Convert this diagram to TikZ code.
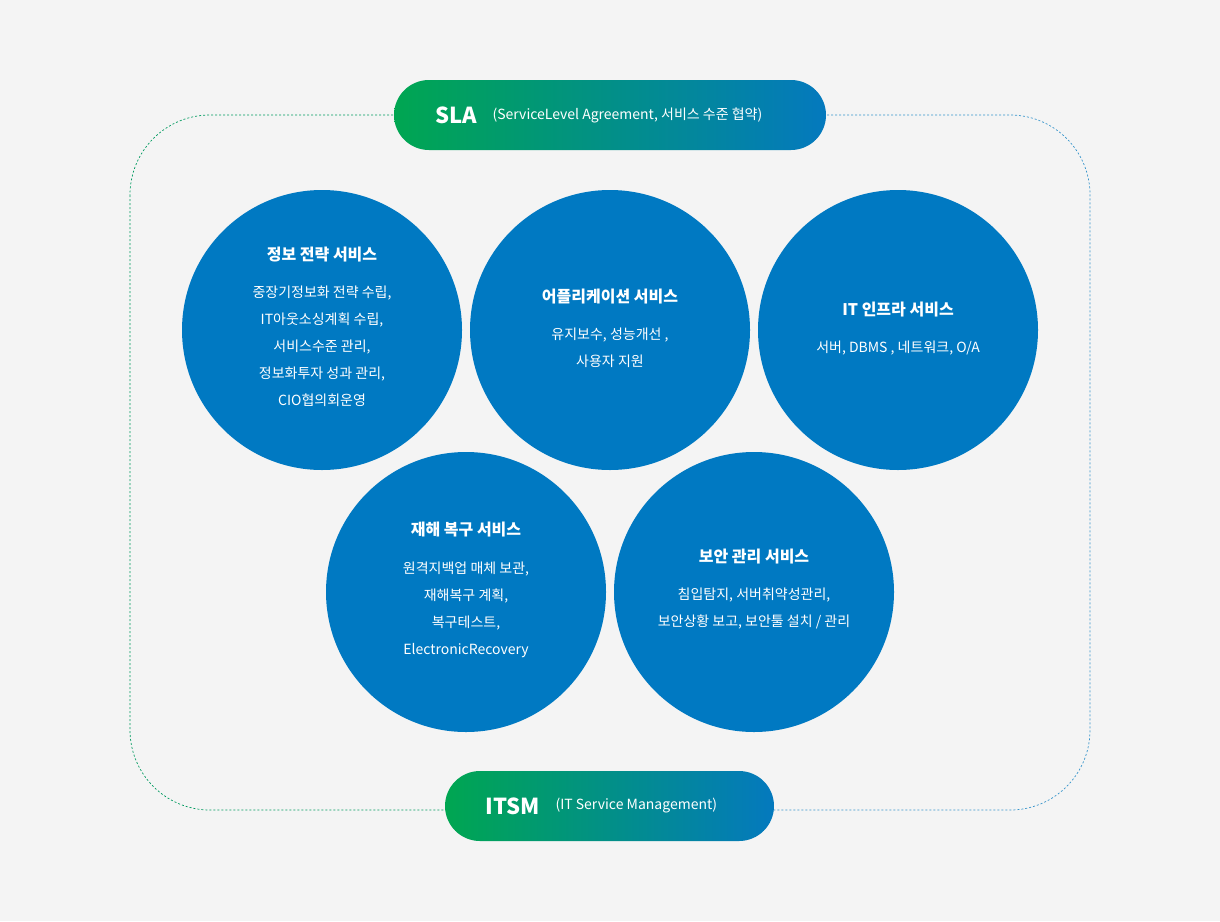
\documentclass[tikz,border=0pt]{standalone}
\usepackage{fontspec}
\setmainfont{Noto Sans CJK KR}
\usetikzlibrary{shapes.geometric}
\definecolor{bg}{HTML}{F4F4F4}
\definecolor{cblue}{HTML}{0079C2}
\definecolor{gg}{HTML}{00A651}
\definecolor{gb}{HTML}{0479BE}
\tikzset{
 circ/.style={circle,fill=cblue,minimum size=280pt,inner sep=0pt},
 ttl/.style={text=white,font=\fontsize{16}{18}\selectfont\bfseries,anchor=center},
 body/.style={text=white,font=\fontsize{14}{27}\selectfont,align=center,anchor=north},
 pill/.style={rounded corners=35pt,left color=gg,right color=gb,draw=none},
 dline/.style={dashed,dash pattern=on 2pt off 2pt,line width=0.7pt}
}
\begin{document}
\begin{tikzpicture}[x=1pt,y=-1pt]
\fill[bg] (0,0) rectangle (1220,921);
\useasboundingbox (0,0) rectangle (1220,921);
\begin{scope}
\clip (0,0) rectangle (610,921);
\draw[dline,draw=gg!70!teal] (130,115) [rounded corners=80pt] -- (130,810) -- (1090,810) -- (1090,115) -- cycle;
\end{scope}
\begin{scope}
\clip (610,0) rectangle (1220,921);
\draw[dline,draw=gb!80] (130,115) [rounded corners=80pt] -- (130,810) -- (1090,810) -- (1090,115) -- cycle;
\end{scope}
\node[pill,minimum width=432pt,minimum height=70pt] (sla) at (610,115) {};
\node[anchor=west,text=white,font=\fontsize{22}{24}\selectfont\bfseries] (slat) at (432,115) {SLA};
\node[anchor=west,text=white,font=\fontsize{14}{16}\selectfont] (slas) at (489,115) {(ServiceLevel Agreement, 서비스 수준 협약)};
\node[pill,minimum width=329pt,minimum height=70pt] (itsm) at (609.5,806) {};
\node[anchor=west,text=white,font=\fontsize{22}{24}\selectfont\bfseries] (itsmt) at (482,806) {ITSM};
\node[anchor=west,text=white,font=\fontsize{14}{16}\selectfont] (itsms) at (552,806) {(IT Service Management)};

\node[circ] (c1) at (322,330) {};
\node[circ] (c2) at (610,330) {};
\node[circ] (c3) at (898,330) {};
\node[circ] (c4) at (466,592) {};
\node[circ] (c5) at (754,592) {};

\node[ttl] (t1) at (322,255) {정보 전략 서비스};
\node[body] (b1) at (322,282) {중장기정보화 전략 수립,\\IT아웃소싱계획 수립,\\서비스수준 관리,\\정보화투자 성과 관리,\\CIO협의회운영};
\node[ttl] (t2) at (610,297) {어플리케이션 서비스};
\node[body] (b2) at (610,324) {유지보수, 성능개선 ,\\사용자 지원};
\node[ttl] (t3) at (898,310) {IT 인프라 서비스};
\node[body] (b3) at (898,337) {서버, DBMS , 네트워크, O/A};
\node[ttl] (t4) at (466,530) {재해 복구 서비스};
\node[body] (b4) at (466,558) {원격지백업 매체 보관,\\재해복구 계획,\\복구테스트,\\ElectronicRecovery};
\node[ttl] (t5) at (754,557) {보안 관리 서비스};
\node[body] (b5) at (754,584) {침입탐지, 서버취약성관리,\\보안상황 보고, 보안툴 설치 / 관리};
\end{tikzpicture}
\end{document}
